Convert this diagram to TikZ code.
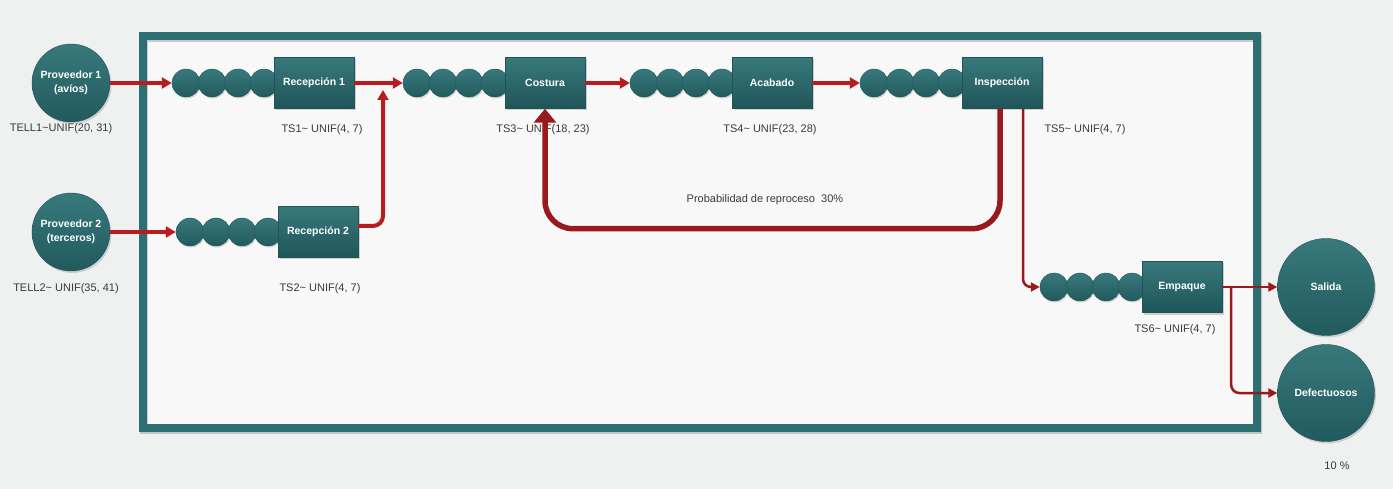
\documentclass[tikz,border=0pt]{standalone}
\usepackage{fontspec}
\setmainfont{Liberation Sans}
\usetikzlibrary{arrows.meta,positioning,shapes.geometric,shadows}
\definecolor{TealBox}  {HTML}{2D6F72}
\definecolor{TealTop}  {HTML}{38797C}
\definecolor{TealDark} {HTML}{1F5558}
\definecolor{FlowRed}  {HTML}{BA1B1F}
\definecolor{LoopRed}  {HTML}{991A1D}
\definecolor{LabelText}{HTML}{3A3A3A}
\definecolor{PaperBG}  {HTML}{EFF0F0}
\definecolor{InnerBG}  {HTML}{F8F8F8}

\begin{document}
\begin{tikzpicture}[x=1pt,y=-1pt,
  station/.style={rectangle,top color=TealTop,bottom color=TealDark,draw=TealDark,
    minimum width=80pt,minimum height=51pt,text=white,
    font=\bfseries\fontsize{10.5}{12}\selectfont,
    drop shadow={opacity=.35,shadow xshift=1.5pt,shadow yshift=-2pt}},
  qball/.style={circle,top color=TealTop,bottom color=TealDark!80!TealBox,draw=TealDark,
    minimum size=28pt,inner sep=0pt,
    drop shadow={opacity=.3,shadow xshift=1pt,shadow yshift=-1.5pt}},
  source/.style={circle,top color=TealTop,bottom color=TealDark!80!TealBox,draw=TealDark,
    minimum size=78pt,inner sep=0pt,text=white,align=center,
    font=\bfseries\fontsize{10.5}{14}\selectfont,
    drop shadow={opacity=.3,shadow xshift=1.5pt,shadow yshift=-2pt}},
  sink/.style={source,minimum size=97pt},
  dist/.style={text=LabelText,font=\fontsize{11}{13}\selectfont},
  flow/.style={draw=FlowRed,line width=4pt,-{Triangle[length=10pt,width=11pt]}},
  thinflow/.style={draw=LoopRed,line width=2.5pt,rounded corners=8pt,
    -{Triangle[length=9pt,width=9pt]}},
  back/.style={draw=LoopRed,line width=5.5pt,rounded corners=28pt,
    -{Triangle[length=14pt,width=22pt]}}]

  % background and system frame
  \fill[PaperBG] (0,0) rectangle (1393,489);
  \useasboundingbox (0,0) rectangle (1393,489);
  \fill[InnerBG] (143,36) rectangle (1257,428);
  \draw[black,opacity=.18,line width=8pt] (144,38) rectangle (1258,430);
  \draw[TealBox,line width=8pt] (143,36) rectangle (1257,428);

  % sources and sinks
  \node[source] (prov1) at (71,83) {Proveedor 1\\(avíos)};
  \node[source] (prov2) at (71,232) {Proveedor 2\\(terceros)};
  \node[sink] (salida) at (1326,287) {Salida};
  \node[sink] (defect) at (1326,393) {Defectuosos};

  % queues and stations
  \foreach \nm/\x/\y/\txt in {rec1/314/83/Recepción 1,rec2/318/232/Recepción 2,
      cost/545/83/Costura,acab/772/83/Acabado,insp/1002/83/Inspección,
      empq/1182/287/Empaque}{
    \foreach \k in {3,2,1,0}
      \node[qball] (\nm q\k) at ({\x-50-26*\k},\y) {};
    \node[station] (\nm) at (\x,\y) {\txt};
  }

  % distributions
  \node[dist] (tell1) at (61,129) {TELL1\textasciitilde UNIF(20, 31)};
  \node[dist] (tell2) at (66,289) {TELL2\textasciitilde{} UNIF(35, 41)};
  \node[dist] (ts1) at (322,130) {TS1\textasciitilde{} UNIF(4, 7)};
  \node[dist] (ts2) at (320,289) {TS2\textasciitilde{} UNIF(4, 7)};
  \node[dist] (ts3) at (543,130) {TS3\textasciitilde{} UNIF(18, 23)};
  \node[dist] (ts4) at (770,130) {TS4\textasciitilde{} UNIF(23, 28)};
  \node[dist] (ts5) at (1085,130) {TS5\textasciitilde{} UNIF(4, 7)};
  \node[dist] (ts6) at (1175,330) {TS6\textasciitilde{} UNIF(4, 7)};
  \node[dist] (reproc) at (765,200) {Probabilidad de reproceso\ \ 30\%};
  \node[dist] (pct) at (1337,466) {10 \%};

  % flows
  \coordinate (join) at (383,90);
  \draw[flow] (prov1) -- (rec1q3);
  \draw[flow] (prov2) -- (rec2q3);
  \draw[flow] (rec1) -- (costq3);
  \draw[flow,rounded corners=10pt] ([yshift=6pt]rec2.east) -| (join);
  \draw[flow] (cost) -- (acabq3);
  \draw[flow] (acab) -- (inspq3);
  \draw[back] ([xshift=-2pt]insp.south) -- ++(0,120) -| (cost.south);
  \draw[thinflow] ([xshift=21pt]insp.south) |- (empqq3);
  \draw[thinflow] (empq) -- (salida);
  \draw[thinflow] ([xshift=9pt]empq.east) |- (defect);
\end{tikzpicture}
\end{document}
